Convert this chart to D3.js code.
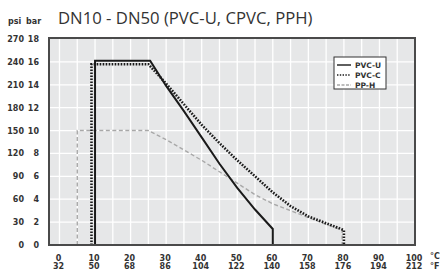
<!DOCTYPE html>
<html>
<head>
<meta charset="utf-8">
<script src="https://cdn.jsdelivr.net/npm/d3@7"></script>
<style>
  body { margin: 0; background: #fff; }
  svg { display: block; }
</style>
</head>
<body>
<svg id="chart"></svg>
<script>
// temperature ticks (°C) and their °F labels
const tempC = [0, 10, 20, 30, 40, 50, 60, 70, 80, 90, 100];
const tempF = [32, 50, 68, 86, 104, 122, 140, 158, 176, 194, 212];
// pressure ticks (bar) and psi labels
const barTicks = [0, 2, 4, 6, 8, 10, 12, 14, 16, 18];
const psiTicks = [0, 30, 60, 90, 120, 150, 180, 210, 240, 270];

// curves: [°C, bar]
const pvcU = [[10, 0], [10, 16.1], [25.5, 16.1], [30, 13.9], [35, 11.7], [40, 9.4], [45, 7.1], [50, 5.0], [55, 3.1], [60, 1.4], [60, 0]];
const pvcC = [[9, 0], [9, 15.8], [25, 15.8], [30, 14.1], [35, 12.3], [40, 10.5], [45, 8.9], [50, 7.4], [55, 6.0], [60, 4.6], [65, 3.4], [70, 2.5], [75, 1.9], [80, 1.3], [80, 0]];
const ppH = [[5, 0], [5, 10], [25, 10], [30, 9.2], [35, 8.3], [40, 7.4], [45, 6.4], [50, 5.4], [55, 4.4], [60, 3.6], [65, 3.0], [70, 2.4], [75, 1.8], [79.5, 1.3], [79.5, 0]];

const series = [
  { name: "PVC-U", data: pvcU, color: "#1a1a1a", width: 2, dash: null },
  { name: "PVC-C", data: pvcC, color: "#1a1a1a", width: 2.6, dash: "1.6,1.4" },
  { name: "PP-H", data: ppH, color: "#a8a8a8", width: 1.4, dash: "4,2.5" }
];

const W = 443, H = 276;
const plot = { left: 49, right: 415, top: 38, bottom: 245 };

const svg = d3.select("#chart").attr("width", W).attr("height", H);

const x = d3.scaleLinear().domain([-2.95, 100]).range([plot.left, plot.right]);
const y = d3.scaleLinear().domain([0, 18]).range([plot.bottom, plot.top + 1]);

// plot background
svg.append("rect")
  .attr("x", plot.left).attr("y", plot.top)
  .attr("width", plot.right - plot.left).attr("height", plot.bottom - plot.top)
  .attr("fill", "#e6e7e8");

// grid
const grid = svg.append("g").attr("stroke", "#fff").attr("stroke-width", 1.3);
grid.selectAll("line.v")
  .data(d3.range(0, 100, 5))
  .join("line")
  .attr("x1", d => x(d)).attr("x2", d => x(d))
  .attr("y1", plot.top).attr("y2", plot.bottom);
grid.selectAll("line.h")
  .data(barTicks.filter(d => d > 0 && d < 18))
  .join("line")
  .attr("x1", plot.left).attr("x2", plot.right)
  .attr("y1", d => y(d)).attr("y2", d => y(d));

// curves, PP-H first so the dotted PVC-C sits on top of it
const line = d3.line().x(d => x(d[0])).y(d => y(d[1]));
svg.append("g").selectAll("path")
  .data(series.slice().reverse())
  .join("path")
  .attr("d", d => line(d.data))
  .attr("fill", "none")
  .attr("stroke", d => d.color)
  .attr("stroke-width", d => d.width)
  .attr("stroke-dasharray", d => d.dash)
  .attr("stroke-linejoin", "miter");

// frame
svg.append("rect")
  .attr("x", plot.left).attr("y", plot.top)
  .attr("width", plot.right - plot.left).attr("height", plot.bottom - plot.top)
  .attr("fill", "none")
  .attr("stroke", "#4a4a4a")
  .attr("stroke-width", 2);

// title
svg.append("text")
  .attr("x", 58).attr("y", 24)
  .text("DN10 - DN50 (PVC-U, CPVC, PPH)")
  .style("font-family", "Open Sans")
  .style("font-size", "16.7px")
  .attr("fill", "#333");

const lab = { "font-family": "DejaVu Sans", "font-size": "8px", "font-weight": "bold" };
function styled(sel) {
  Object.entries(lab).forEach(([k, v]) => sel.style(k, v));
  return sel.attr("fill", "#333");
}

styled(svg.append("text").attr("x", 8).attr("y", 24).text("psi"));
styled(svg.append("text").attr("x", 26).attr("y", 24).text("bar"));

// y labels
styled(svg.append("g").selectAll("text")
  .data(psiTicks)
  .join("text")
  .attr("x", 24).attr("y", (d, i) => y(barTicks[i]) + 3)
  .attr("text-anchor", "end")
  .text(d => d));
styled(svg.append("g").selectAll("text")
  .data(barTicks)
  .join("text")
  .attr("x", 39).attr("y", d => y(d) + 3)
  .attr("text-anchor", "end")
  .text(d => d));

// x labels
styled(svg.append("g").selectAll("text")
  .data(tempC)
  .join("text")
  .attr("x", d => x(d) - 1).attr("y", 260.5)
  .attr("text-anchor", "middle")
  .text(d => d));
styled(svg.append("g").selectAll("text")
  .data(tempF)
  .join("text")
  .attr("x", (d, i) => x(tempC[i]) - 1).attr("y", 269)
  .attr("text-anchor", "middle")
  .text(d => d));
styled(svg.append("text").attr("x", 430).attr("y", 259).text("°C"));
styled(svg.append("text").attr("x", 430).attr("y", 269).text("°F"));

// legend
const lg = svg.append("g").attr("transform", "translate(334,57)");
lg.append("rect")
  .attr("width", 52).attr("height", 32)
  .attr("fill", "#fff").attr("stroke", "#333").attr("stroke-width", 1);
series.forEach((s, i) => {
  const ly = 8 + i * 10;
  lg.append("line")
    .attr("x1", 3).attr("x2", 17).attr("y1", ly).attr("y2", ly)
    .attr("stroke", s.color)
    .attr("stroke-width", i === 1 ? 1.6 : 1.4)
    .attr("stroke-dasharray", i === 1 ? "1.4,1.4" : (i === 2 ? "3,1.5" : null));
  styled(lg.append("text").attr("x", 21).attr("y", ly + 3).text(s.name))
    .style("font-size", "7.5px");
});
</script>
</body>
</html>
